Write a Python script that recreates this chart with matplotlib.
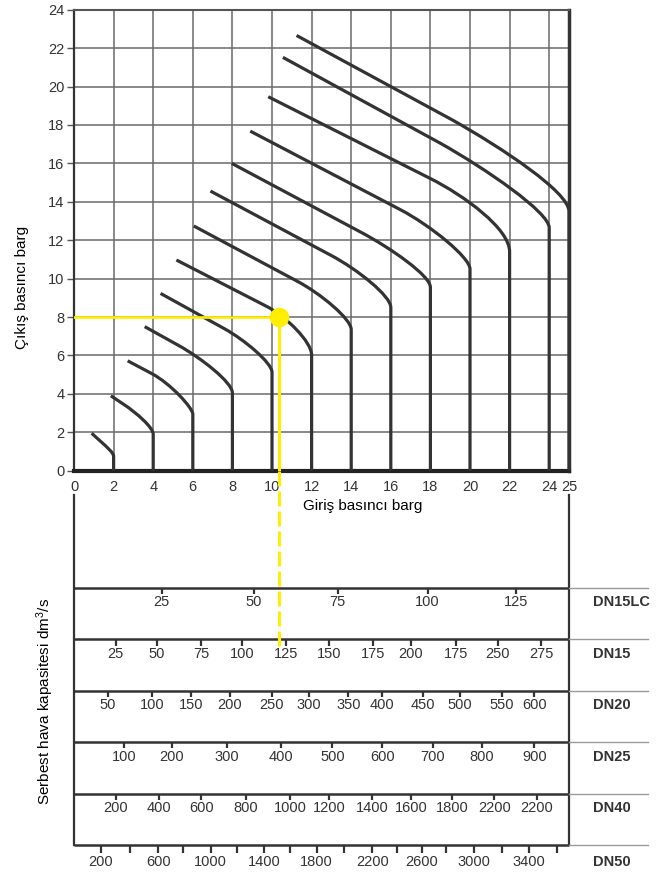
import matplotlib
matplotlib.use('Agg')
import matplotlib.pyplot as plt
from matplotlib.path import Path
from matplotlib.patches import PathPatch

plt.rcParams['font.family'] = ['Liberation Sans', 'DejaVu Sans']
plt.rcParams['lines.scale_dashes'] = False

# ---- çıkış basıncı eğrileri ----
# her eğri: üst uç -> düz kısım sonu -> yumuşak dönüş -> giriş basıncında dikey iniş
inlet_p = [2, 4, 6, 8, 10, 12, 14, 16, 18, 20, 22, 24, 25]
top_x = [0.89, 1.86, 2.71, 3.57, 4.37, 5.17, 6.05, 6.89, 7.97, 8.90, 9.81, 10.55, 11.24]
top_y = [1.95, 3.90, 5.72, 7.50, 9.23, 10.97, 12.74, 14.56, 16.00, 17.68, 19.47, 21.52, 22.66]
bend_x = [1.35, 2.50, 3.90, 5.30, 7.60, 9.70, 11.30, 13.00, 14.50, 16.50, 18.00, 18.50, 19.11]
bend_y = [1.52, 3.46, 5.07, 6.51, 7.39, 8.57, 9.85, 11.20, 12.41, 13.58, 15.21, 17.05, 18.26]
ctrl_x = [1.65, 3.15, 4.90, 6.40, 8.60, 10.70, 12.45, 14.30, 16.00, 18.00, 19.70, 20.80, 21.61]
ctrl_y = [1.24, 3.02, 4.53, 5.88, 6.82, 8.04, 9.22, 10.49, 11.59, 12.77, 14.33, 15.72, 16.81]
knee_y = [0.94, 2.25, 3.25, 4.60, 5.62, 6.72, 7.90, 9.10, 10.15, 11.10, 12.60, 13.45, 14.50]
vert_y = [0.74, 1.90, 2.95, 4.05, 5.12, 6.02, 7.35, 8.50, 9.55, 10.50, 11.40, 12.65, 13.50]

# örnek çalışma noktası
op_inlet = 10.35
op_outlet = 8.0

# ---- kapasite skalaları (değer, giriş basıncı ekseninde konum) ----
dn15lc_vals = [25, 50, 75, 100, 125]
dn15lc_pos = [4.43, 9.09, 13.32, 17.86, 22.32]
dn15_vals = [25, 50, 75, 100, 125, 150, 175, 200, 175, 250, 275]
dn15_pos = [2.11, 4.18, 6.41, 8.48, 10.71, 12.88, 15.09, 17.02, 19.29, 21.40, 23.59]
dn20_vals = [50, 100, 150, 200, 250, 300, 350, 400, 450, 500, 550, 600]
dn20_pos = [1.70, 3.95, 5.92, 7.88, 9.98, 11.87, 13.85, 15.57, 17.64, 19.49, 21.60, 23.25]
dn25_vals = [100, 200, 300, 400, 500, 600, 700, 800, 900]
dn25_pos = [2.53, 4.95, 7.71, 10.45, 13.05, 15.57, 18.12, 20.59, 23.25]
dn40_vals = [200, 400, 600, 800, 1000, 1200, 1400, 1600, 1800, 2200, 2200]
dn40_pos = [2.11, 4.28, 6.43, 8.67, 10.91, 12.89, 15.07, 17.02, 19.08, 21.23, 23.37]
dn50_vals = [200, 400, 600, 800, 1000, 1200, 1400, 1600, 1800,
             2000, 2200, 2400, 2600, 2800, 3000, 3200, 3400, 3600]
dn50_pos = [1.36, 2.84, 4.26, 5.52, 6.90, 8.23, 9.60, 10.92, 12.25,
            13.65, 15.07, 16.30, 17.56, 18.77, 20.20, 21.63, 22.98, 24.38]
dn50_labeled = [200, 600, 1000, 1400, 1800, 2200, 2600, 3000, 3400]
row_names = ['DN15LC', 'DN15', 'DN20', 'DN25', 'DN40', 'DN50']

rows = [(dn15lc_pos, dn15lc_vals), (dn15_pos, dn15_vals), (dn20_pos, dn20_vals),
        (dn25_pos, dn25_vals), (dn40_pos, dn40_vals), (dn50_pos, dn50_vals)]

yel = '#FFEE00'
ink = '#333333'

fig = plt.figure(figsize=(6.68, 8.77), dpi=100)

# ----- üst grafik -----
ax = fig.add_axes([0.1108, 0.4633, 0.741, 0.5256])
ax.set_xlim(0, 25)
ax.set_ylim(0, 24)
ax.set_xticks(list(range(0, 25, 2)) + [25])
ax.set_yticks(range(0, 25, 2))
ax.set_xticks([0, 25], minor=True)
ax.grid(True, color='#6a6a6a', lw=1.1, zorder=1)
ax.tick_params(axis='x', which='major', length=0, pad=7, labelsize=10.5, labelcolor=ink)
ax.tick_params(axis='x', which='minor', length=6, width=1.2, color=ink)
ax.tick_params(axis='y', length=5, width=1, color='#555555', pad=2, labelsize=10.5, labelcolor=ink)
ax.spines['bottom'].set_linewidth(3)
ax.spines['bottom'].set_color('#222222')
ax.spines['left'].set_linewidth(1.6)
ax.spines['left'].set_color(ink)
ax.spines['top'].set_linewidth(1.5)
ax.spines['top'].set_color('#555555')
ax.spines['right'].set_linewidth(2.5)
ax.spines['right'].set_color(ink)

codes = [Path.MOVETO, Path.LINETO, Path.CURVE4, Path.CURVE4, Path.CURVE4, Path.LINETO]
for i, p in enumerate(inlet_p):
    verts = [(top_x[i], top_y[i]), (bend_x[i], bend_y[i]), (ctrl_x[i], ctrl_y[i]),
             (p, knee_y[i]), (p, vert_y[i]), (p, 0)]
    ax.add_patch(PathPatch(Path(verts, codes), fill=False, ec=ink, lw=2.3,
                           joinstyle='round', capstyle='butt', zorder=3, clip_on=False))

ax.plot([0, op_inlet], [op_outlet, op_outlet], color=yel, lw=1.9, zorder=4)
ax.plot([op_inlet, op_inlet], [op_outlet, 0], color=yel, lw=2.2, zorder=4)
ax.plot([op_inlet], [op_outlet], 'o', ms=13, color=yel, mec=yel, zorder=5)

# ----- alt skala paneli -----
ax2 = fig.add_axes([0.1108, 0.0365, 0.741, 0.4265])
ax2.set_xlim(0, 25)
ax2.set_ylim(5, -2.276)
ax2.axis('off')

frame_top = -1.81
ax2.plot([0, 0], [frame_top, 5], color=ink, lw=1.6, clip_on=False)
ax2.plot([25, 25], [frame_top, 5], color=ink, lw=1.6, clip_on=False)
for i in range(6):
    ax2.plot([0, 25], [i, i], color=ink, lw=1.8, clip_on=False, solid_capstyle='butt')
    ax2.plot([25, 29], [i, i], color='#9a9a9a', lw=1.0, clip_on=False)

for i, (pos, vals) in enumerate(rows):
    tick_len = 0.16 if i == 5 else 0.12
    lab_off = 0.34 if i == 5 else 0.28
    ax2.vlines(pos, i, i + tick_len, color=ink, lw=1.6, clip_on=False)
    for p, v in zip(pos, vals):
        if i == 5 and v not in dn50_labeled:
            continue
        ax2.text(p, i + lab_off, str(v), ha='center', va='center', fontsize=10.5,
                 color=ink, clip_on=False)
    ax2.text(26.21, i + lab_off, row_names[i], ha='left', va='center', fontsize=10.5,
             fontweight='bold', color=ink, clip_on=False)

ax2.plot([op_inlet, op_inlet], [-2.276, 1.15], color=yel, lw=2.2, dashes=(10.8, 3.6),
         clip_on=False, zorder=4)

# eksen yazıları
fig.text(303 / 668, 1 - 506 / 877, 'Giriş basıncı barg', ha='left', va='center', fontsize=11)
fig.text(22 / 668, 1 - 287 / 877, 'Çıkış basıncı barg', rotation=90, ha='center',
         va='center', fontsize=11)
fig.text(45 / 668, 1 - 701 / 877, r'Serbest hava kapasitesi dm$\mathregular{^3}$/s',
         rotation=90, ha='center', va='center', fontsize=11)

fig.savefig('out.png', dpi=100)
